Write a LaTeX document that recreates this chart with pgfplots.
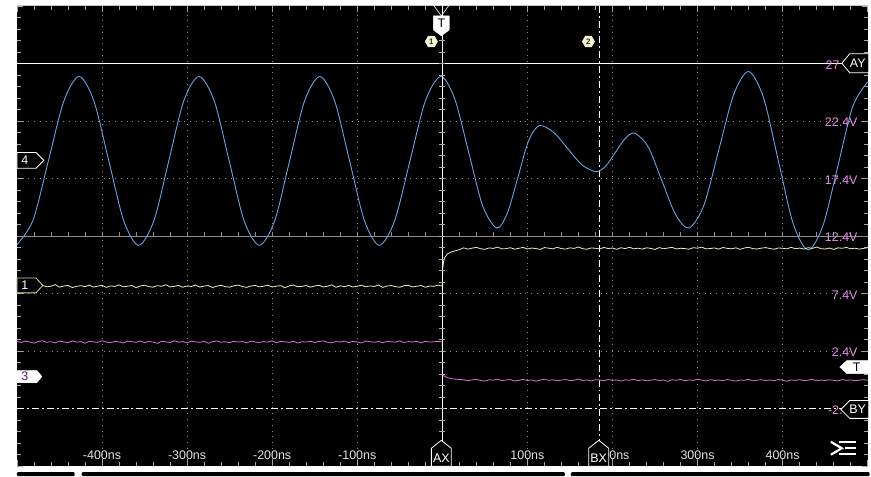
\documentclass[border=0pt]{standalone}
\usepackage{pgfplots}
\pgfplotsset{compat=1.18}
\usepackage{pgfplotstable}
\usetikzlibrary{shapes.geometric}
\usepackage{fontspec}
\setmainfont{Liberation Sans}
\definecolor{blueT}{HTML}{67A3DE}
\definecolor{yelT}{HTML}{EEEEB8}
\definecolor{pinkT}{HTML}{DC6EDC}
\definecolor{ylab}{HTML}{E68EE6}
\definecolor{xlab}{HTML}{E4E4DA}
\definecolor{gridc}{HTML}{8C8C8C}
\definecolor{tickc}{HTML}{A8A8A8}
\definecolor{purp}{HTML}{5A1A5A}
\definecolor{yelO}{HTML}{D8D8A0}

\pgfplotstableread{
t v
-500 11.65
-481 13.80
-463 18.95
-445 24.10
-427 26.27
-409.5 24.13
-392 18.94
-374.5 13.74
-357 11.60
-339 13.74
-321.5 18.94
-304 24.13
-286 26.27
-268 24.13
-250.5 18.94
-233 13.74
-215 11.60
-197 13.74
-179.5 18.94
-162 24.13
-144 26.27
-126.5 24.13
-109 18.94
-91.5 13.74
-74 11.60
-56 13.74
-38 18.94
-20 24.13
-2 26.27
14.5 24.35
31 19.69
47.5 15.02
64 13.10
76.5 14.40
89 17.55
101.5 20.70
114 22.00
130.75 21.42
147.5 20.00
164.25 18.58
181 18.00
192.25 18.49
203.5 19.68
214.75 20.86
226 21.35
242 20.15
258 17.23
274 14.30
290 13.10
307.5 15.09
325 19.90
342.5 24.71
360 26.70
377.5 24.44
395 18.95
412.5 13.46
430 11.20
447.5 13.33
465 18.50
482.5 23.67
500 25.80
}\bluedata

\pgfplotstableread{
t y1 y3
-500 8.10 3.25
-495 7.98 3.15
-490 8.15 3.28
-485 8.02 3.19
-480 7.95 3.10
-475 8.08 3.24
-470 8.12 3.30
-465 7.99 3.17
-460 8.04 3.22
-455 8.18 3.12
-450 7.96 3.27
-445 8.06 3.20
-440 8.11 3.14
-435 7.93 3.29
-430 8.03 3.18
-425 8.09 3.23
-420 8.00 3.09
-415 8.14 3.26
-410 7.97 3.21
-405 8.05 3.16
-400 8.12 3.31
-395 7.94 3.19
-390 8.07 3.13
-385 8.02 3.25
-380 8.16 3.20
-375 7.99 3.11
-370 8.05 3.27
-365 8.10 3.22
-360 7.92 3.17
-355 8.06 3.28
-350 8.13 3.14
-345 8.01 3.24
-340 7.96 3.19
-335 8.09 3.08
-330 8.04 3.26
-325 8.17 3.21
-320 7.98 3.15
-315 8.03 3.30
-310 8.11 3.18
-305 7.95 3.23
-300 8.07 3.12
-295 8.02 3.27
-290 8.14 3.20
-285 7.97 3.16
-280 8.06 3.25
-275 8.10 3.09
-270 7.93 3.22
-265 8.05 3.29
-260 8.12 3.17
-255 8.00 3.21
-250 7.96 3.14
-245 8.08 3.26
-240 8.15 3.19
-235 8.01 3.24
-230 7.94 3.11
-225 8.06 3.28
-220 8.11 3.20
-215 7.99 3.15
-210 8.04 3.23
-205 8.13 3.18
-200 7.97 3.30
-195 8.05 3.13
-190 8.09 3.25
-185 7.92 3.21
-180 8.07 3.16
-175 8.14 3.27
-170 8.00 3.10
-165 8.03 3.22
-160 8.10 3.19
-155 7.96 3.26
-150 8.06 3.15
-145 8.12 3.24
-140 7.98 3.29
-135 8.04 3.18
-130 8.16 3.12
-125 7.95 3.23
-120 8.08 3.20
-115 8.01 3.27
-110 8.11 3.14
-105 7.97 3.25
-100 8.05 3.19
-95 8.13 3.11
-90 7.99 3.28
-85 8.07 3.22
-80 8.02 3.17
-75 8.15 3.24
-70 7.94 3.13
-65 8.06 3.26
-60 8.10 3.21
-55 8.00 3.18
-50 7.96 3.29
-45 8.09 3.15
-40 8.12 3.23
-35 7.98 3.20
-30 8.04 3.25
-25 8.11 3.12
-20 7.95 3.27
-15 8.07 3.19
-10 8.03 3.22
-5 8.14 3.24
0 8.05 3.21
0.5 9.60 0.35
1.5 10.20 0.28
3 10.55 0.20
6 10.85 0.10
10 11.00 0.02
15 11.12 -0.03
20 11.22 -0.07
25 11.38 -0.08
30 11.27 -0.17
35 11.35 -0.10
40 11.42 -0.05
45 11.30 -0.14
50 11.25 -0.20
55 11.37 -0.09
60 11.33 -0.12
65 11.44 -0.03
70 11.29 -0.16
75 11.31 -0.11
80 11.39 -0.07
85 11.26 -0.19
90 11.34 -0.13
95 11.41 -0.06
100 11.28 -0.15
105 11.36 -0.10
110 11.32 -0.21
115 11.24 -0.12
120 11.40 -0.04
125 11.35 -0.14
130 11.29 -0.09
135 11.43 -0.18
140 11.31 -0.11
145 11.27 -0.07
150 11.38 -0.16
155 11.33 -0.13
160 11.45 -0.02
165 11.30 -0.15
170 11.26 -0.10
175 11.37 -0.19
180 11.34 -0.08
185 11.28 -0.12
190 11.41 -0.17
195 11.32 -0.06
200 11.36 -0.14
205 11.25 -0.11
210 11.39 -0.20
215 11.31 -0.09
220 11.43 -0.13
225 11.29 -0.05
230 11.35 -0.16
235 11.27 -0.10
240 11.38 -0.18
245 11.33 -0.12
250 11.24 -0.07
255 11.40 -0.15
260 11.30 -0.11
265 11.36 -0.22
270 11.42 -0.09
275 11.28 -0.13
280 11.34 -0.06
285 11.31 -0.17
290 11.26 -0.10
295 11.39 -0.14
300 11.35 -0.04
305 11.44 -0.12
310 11.29 -0.19
315 11.32 -0.08
320 11.37 -0.15
325 11.27 -0.11
330 11.41 -0.16
335 11.33 -0.07
340 11.30 -0.13
345 11.38 -0.20
350 11.25 -0.10
355 11.36 -0.14
360 11.43 -0.05
365 11.31 -0.18
370 11.28 -0.12
375 11.35 -0.09
380 11.40 -0.15
385 11.32 -0.11
390 11.26 -0.17
395 11.37 -0.06
400 11.34 -0.13
405 11.29 -0.21
410 11.42 -0.10
415 11.30 -0.14
420 11.36 -0.08
425 11.27 -0.16
430 11.39 -0.12
435 11.33 -0.04
440 11.45 -0.18
445 11.31 -0.11
450 11.28 -0.15
455 11.36 -0.09
460 11.24 -0.13
465 11.38 -0.19
470 11.34 -0.07
475 11.41 -0.14
480 11.30 -0.10
485 11.35 -0.16
490 11.27 -0.12
495 11.33 -0.08
500 11.39 -0.13
}\scopedata

\tikzset{
  griddot/.style={draw=gridc, line width=1pt, dash pattern=on 1pt off 4.8pt},
  dashdot/.style={draw=white, line width=1pt, dash pattern=on 7pt off 3pt on 2pt off 3pt},
  lab/.style={font=\fontsize{12.5}{12.5}\selectfont, inner sep=0pt},
  hexm/.style={regular polygon, regular polygon sides=6, fill=yelT!60!white, inner sep=0pt, minimum size=13pt, font=\fontsize{8}{8}\selectfont\bfseries, text=black!80},
}

\begin{document}
\begin{tikzpicture}[x=1pt,y=1pt]
\fill[white] (0,0) rectangle (871,476);
\begin{axis}[
  at={(17pt,8pt)}, anchor=south west,
  width=854pt, height=462pt, scale only axis,
  xmin=-500, xmax=500, ymin=-7.6, ymax=32.4,
  axis background/.style={fill=black},
  axis line style={draw=none},
  xtick={-500,-400,-300,-200,-100,0,100,200,300,400,500},
  ytick={-7.6,-2.6,2.4,7.4,12.4,17.4,22.4,27.4,32.4},
  minor x tick num=4, minor y tick num=4,
  xticklabels={}, yticklabels={},
  tick align=inside,
  major tick length=6pt, minor tick length=4pt,
  every tick/.style={draw=tickc, line width=0.8pt},
  clip=true,
]
\pgfplotsinvokeforeach{-400,-300,-200,-100,100,200,300,400}{
  \draw[griddot] (axis cs:#1,-7.6) -- (axis cs:#1,32.4);
}
\pgfplotsinvokeforeach{2.4,7.4,17.4,22.4}{
  \draw[griddot] (axis cs:-500,#1) -- (axis cs:500,#1);
}
\draw[gridc, line width=1pt] (axis cs:-500,12.4) -- (axis cs:500,12.4);
\pgfplotsinvokeforeach{-480,-460,...,480}{
  \draw[gridc, line width=0.8pt] (axis cs:#1,12.4) -- ++(0pt,4pt);
}
\draw[white, line width=1.3pt] (axis cs:-500,27.4) -- (axis cs:500,27.4);
\draw[dashdot] (axis cs:-500,-2.6) -- (axis cs:500,-2.6);
\draw[dashdot] (axis cs:185,32.4) -- (axis cs:185,-7.6);
\addplot[blueT, line width=0.9pt, smooth] table[x=t,y=v]{\bluedata};
\addplot[yelT, line width=0.8pt] table[x=t,y=y1]{\scopedata};
\addplot[pinkT, line width=0.8pt] table[x=t,y=y3]{\scopedata};
\draw[white, line width=1.2pt] (axis cs:0,-7.6) -- (axis cs:0,32.4);
\pgfplotsinvokeforeach{-6.6,-5.6,...,31.4}{
  \draw[tickc, line width=0.8pt] (axis cs:0,#1) ++(-3pt,0pt) -- ++(6pt,0pt);
}
\end{axis}

\draw[gray!45, line width=1.5pt] (17,470.5) -- (871,470.5);
\fill[black, rounded corners=1pt] (17,-2) rectangle (75,2);
\fill[black, rounded corners=1pt] (82,-2) rectangle (567,2);
\fill[black, rounded corners=1pt] (573,-2) rectangle (873,2);

\node[lab, text=xlab] at (102.4,19) {-400ns};
\node[lab, text=xlab] at (187.8,19) {-300ns};
\node[lab, text=xlab] at (273.2,19) {-200ns};
\node[lab, text=xlab] at (358.6,19) {-100ns};
\node[lab, text=xlab] at (529.4,19) {100ns};
\node[lab, text=xlab] at (614.8,19) {200ns};
\node[lab, text=xlab] at (700.2,19) {300ns};
\node[lab, text=xlab] at (785.6,19) {400ns};

\node[lab, text=ylab, anchor=east] at (861,353) {22.4V};
\node[lab, text=ylab, anchor=east] at (861,295.2) {17.4V};
\node[lab, text=ylab, anchor=east] at (861,237.5) {12.4V};
\node[lab, text=ylab, anchor=east] at (861,179.7) {7.4V};
\node[lab, text=ylab, anchor=east] at (861,122) {2.4V};
\node[lab, text=ylab, anchor=east] at (843,410.8) {27};
\node[lab, text=ylab, anchor=east] at (846,64.3) {-2.};

\filldraw[fill=black, draw=white, line width=0.8pt] (17,307) -- (36,307) -- (44,315) -- (36,323) -- (17,323) -- cycle;
\node[lab, text=white] at (25,315) {4};
\filldraw[fill=black, draw=yelO, line width=0.8pt] (17,182) -- (36,182) -- (43,189.5) -- (36,197) -- (17,197) -- cycle;
\node[lab, text=white] at (25,189.5) {1};
\filldraw[fill=white, draw=white, line width=0.6pt] (17,92) -- (37,92) -- (42,98) -- (37,104) -- (17,104) -- cycle;
\node[lab, text=purp] at (25,98) {3};

\draw[white, line width=0.6pt] (435,471) -- (451,471) -- (443,460) -- cycle;
\filldraw[fill=white, draw=white] (435,460) -- (451,460) -- (451,446) -- (443,440) -- (435,446) -- cycle;
\node[lab, text=black] at (443,452.5) {T};
\node[hexm] at (433,434.3) {1};
\node[hexm] at (590.7,434.3) {2};

\filldraw[fill=black, draw=white, line width=0.8pt] (872,403) -- (853,403) -- (845,412.5) -- (853,422) -- (872,422) -- cycle;
\node[lab, text=white] at (861,412.5) {AY};
\filldraw[fill=white, draw=white] (872,101) -- (850,101) -- (843,107.5) -- (850,114) -- (872,114) -- cycle;
\node[lab, text=black] at (860,107.5) {T};
\filldraw[fill=black, draw=white, line width=0.8pt] (872,56) -- (853,56) -- (844,65) -- (853,74) -- (872,74) -- cycle;
\node[lab, text=white] at (861,65) {BY};

\filldraw[fill=black, draw=white, line width=0.8pt] (433,8) -- (433,26) -- (443,34) -- (453,26) -- (453,8) -- cycle;
\node[lab, text=white] at (443,16.5) {AX};
\filldraw[fill=black, draw=white, line width=0.8pt] (591,8) -- (591,26) -- (601,34) -- (611,26) -- (611,8) -- cycle;
\node[lab, text=white] at (601,16.5) {BX};

\draw[white, line width=2.2pt] (834,32.5) -- (845,26) -- (834,19.5);
\draw[white, line width=2.2pt] (842,32) -- (859,32);
\draw[white, line width=2.2pt] (848,26) -- (859,26);
\draw[white, line width=2.2pt] (842,20) -- (859,20);
\end{tikzpicture}
\end{document}
